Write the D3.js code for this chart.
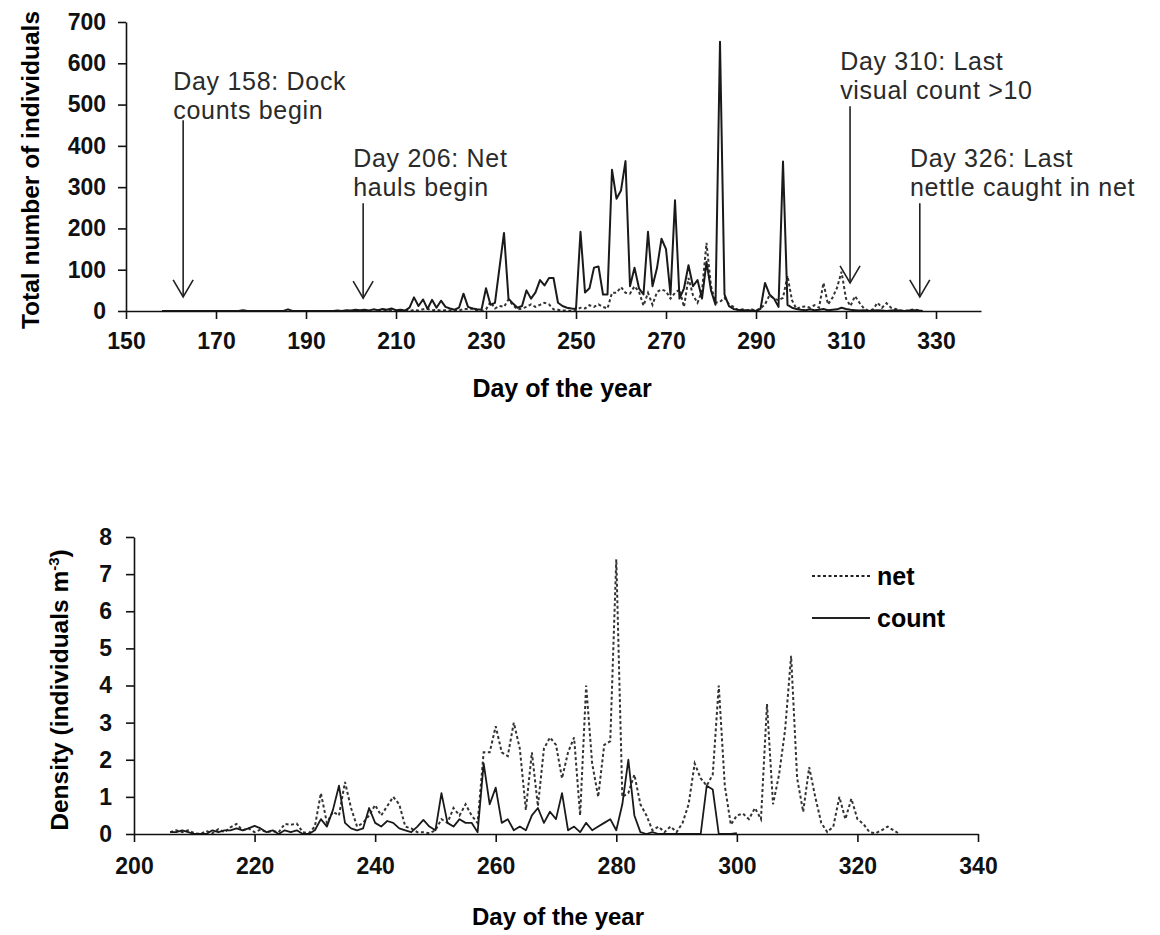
<!DOCTYPE html>
<html>
<head>
<meta charset="utf-8">
<script src="https://cdn.jsdelivr.net/npm/d3@7"></script>
<style>
  body { margin: 0; background: #fff; }
  text { font-family: "Liberation Sans", Arial, sans-serif; }
</style>
</head>
<body>
<div id="chart"></div>
<script>
// data: daily values, first value belongs to the start day
const topCountStart = 158;
const topCount = [
    0,0,0,0,0,0,0,0,0,0,0,0,0,0,0,0,0,0, 2, 0,0,0,0,0,0,0,0,0, 4,
    0,0,0,0,0,0,0,0,0,0,
    1,0,2,1,3,2,3,1,4,2,5,3,6,2,3,1,8,
    33,12,28,5,27,8,25,10,6,3,8,42,10,6,4,3,55,15,20,105,189,30,18,8,12,50,30,45,75,62,80,80,20,12,8,6,5,192,45,55,105,108,40,40,
    342,272,292,363,60,105,55,40,192,60,104,175,150,40,268,30,55,111,60,75,30,119,50,15,652,40,12,5,3,2,2,1,0,5,68,40,30,10,362,15,8,5,3,
    2,4,2,3,5,2,3,4,8,5,3,2,1,2,0,1,2,1,0,1,2,1,0,1,2,1,0
];
const topNetStart = 206;
const topNet = [
    1,2,1,2,0,0,2,0,3,1,4,5,2,3,1,2,1,2,1,5,5,6,1,0,4,
    22,6,12,10,28,14,4,6,10,16,10,15,20,16,4,3,1,1,0,2,8,6,14,10,16,10,6,
    44,44,58,44,42,60,46,13,44,15,46,52,48,30,44,52,10,80,38,20,48,165,60,20,22,32,16,10,
    2,4,1,4,1,6,16,38,30,26,32,85,26,5,10,11,8,14,8,68,16,32,56,95,30,12,36,20,6,1,
    4,20,8,19,8,5,1,0,2,4,2,0
];

const densNetStart = 206;
const densNet = [
    0.05,0.1,0.05,0.1,0.02,0,0.08,0.02,0.13,0.05,0.18,0.27,0.1,0.15,0.05,0.12,0.05,0.08,0.05,0.27,0.25,0.28,0.05,0.02,0.2,
    1.1,0.3,0.6,0.5,1.4,0.7,0.2,0.3,0.5,0.78,0.5,0.75,1.0,0.8,0.2,0.15,0.05,0.05,0.02,0.1,0.4,0.3,0.7,0.5,0.8,0.5,0.3,
    2.2,2.2,2.9,2.2,2.1,3.0,2.3,0.65,2.2,0.75,2.3,2.6,2.4,1.5,2.2,2.6,0.5,4.0,1.9,1.0,2.4,2.5,7.4,1.0,1.1,1.6,0.8,0.5,
    0.1,0.2,0.05,0.2,0.05,0.3,0.8,1.9,1.5,1.3,1.6,4.0,1.3,0.25,0.5,0.55,0.4,0.7,0.4,3.5,0.8,1.6,2.8,4.8,1.5,0.6,1.8,1.0,0.3,0.05,
    0.2,1.0,0.4,0.95,0.4,0.27,0.05,0.02,0.1,0.2,0.1,0
];
const densCountStart = 206;
const densCount = [
    0.05,0.05,0.1,0.05,0,0,0,0.1,0.05,0.1,0.1,0.15,0.1,0.15,0.22,0.15,0.05,0.1,0,0.1,0.05,0.1,0,0,0.1,
    0.4,0.2,0.65,1.3,0.3,0.15,0.1,0.15,0.7,0.3,0.2,0.35,0.3,0.15,0.1,0.05,0.2,0.38,0.2,0.1,1.1,0.3,0.2,0.4,0.3,0.3,0.05,
    1.9,0.8,1.25,0.3,0.4,0.1,0.2,0.1,0.5,0.7,0.3,0.6,0.4,1.1,0.1,0.2,0.05,0.3,0.1,0.2,0.3,0.4,0.1,0.8,2.0,0.5,0.05,0,
    0.05,0,0,0,0,0,0,0,0,1.3,1.2,0,0,0,0.02
];

// tick labels
const topXTicks = [150, 170, 190, 210, 230, 250, 270, 290, 310, 330];
const topYTicks = [0, 100, 200, 300, 400, 500, 600, 700];
const botXTicks = [200, 220, 240, 260, 280, 300, 320, 340];
const botYTicks = [0, 1, 2, 3, 4, 5, 6, 7, 8];

// annotations: text lines, arrow day, arrow top and tip (in counts)
const notes = [
    { lines: ["Day 158: Dock", "counts begin"], textDay: 160.5, textY: 535, day: 162.7, from: 462, to: 34 },
    { lines: ["Day 206: Net", "hauls begin"], textDay: 200.5, textY: 348, day: 202.7, from: 261, to: 31 },
    { lines: ["Day 310: Last", "visual count >10"], textDay: 308.7, textY: 584, day: 310.9, from: 496, to: 68 },
    { lines: ["Day 326: Last", "nettle caught in net"], textDay: 324.2, textY: 348, day: 326.4, from: 261, to: 34 }
];

const legendItems = [
    { name: "net", dash: "3,2.5" },
    { name: "count", dash: null }
];

const toPoints = (start, vals) => vals.map((v, i) => ({ day: start + i, v: v }));

const svg = d3.select("#chart").append("svg")
    .attr("width", 1160)
    .attr("height", 935);

svg.append("rect").attr("width", 1160).attr("height", 935).attr("fill", "#fff");

function styleAxis(g) {
    g.select(".domain").attr("stroke", "#111").attr("stroke-width", 1.6);
    g.selectAll(".tick line").attr("stroke", "#111").attr("stroke-width", 1.6);
    g.selectAll(".tick text")
        .attr("fill", "#111")
        .style("font-size", "23px")
        .style("font-weight", "bold");
}

// ---------- top chart ----------
const x1 = d3.scaleLinear().domain([150, 340]).range([126, 981]);
const y1 = d3.scaleLinear().domain([0, 700]).range([311, 22]);

const line1 = d3.line().x(d => x1(d.day)).y(d => y1(d.v));

svg.append("path")
    .datum(toPoints(topNetStart, topNet))
    .attr("d", line1)
    .attr("fill", "none")
    .attr("stroke", "#333")
    .attr("stroke-width", 2)
    .attr("stroke-dasharray", "3,2.5");

svg.append("path")
    .datum(toPoints(topCountStart, topCount))
    .attr("d", line1)
    .attr("fill", "none")
    .attr("stroke", "#1a1a1a")
    .attr("stroke-width", 2)
    .attr("stroke-linejoin", "round");

svg.append("g")
    .attr("transform", "translate(0," + y1(0) + ")")
    .call(d3.axisBottom(x1).tickValues(topXTicks).tickSize(8).tickSizeOuter(0).tickPadding(14))
    .call(styleAxis);

svg.append("g")
    .attr("transform", "translate(" + x1(150) + ",0)")
    .call(d3.axisLeft(y1).tickValues(topYTicks).tickSize(8).tickSizeOuter(0).tickPadding(12))
    .call(styleAxis);

svg.append("text")
    .attr("x", 562)
    .attr("y", 397)
    .attr("text-anchor", "middle")
    .style("font-size", "25px")
    .style("font-weight", "bold")
    .text("Day of the year");

svg.append("text")
    .attr("transform", "translate(39,170) rotate(-90)")
    .attr("text-anchor", "middle")
    .style("font-size", "24.5px")
    .style("font-weight", "bold")
    .text("Total number of individuals");

// annotations with arrows
notes.forEach(n => {
    const t = svg.append("text")
        .attr("x", x1(n.textDay))
        .attr("y", y1(n.textY))
        .attr("fill", "#2a2a2a")
        .style("font-size", "25px")
        .style("letter-spacing", "0.7px");
    n.lines.forEach((s, i) => {
        t.append("tspan").attr("x", x1(n.textDay)).attr("dy", i === 0 ? 0 : 29).text(s);
    });
    const ax = x1(n.day), top = y1(n.from), tip = y1(n.to);
    svg.append("line")
        .attr("x1", ax).attr("x2", ax).attr("y1", top).attr("y2", tip)
        .attr("stroke", "#222").attr("stroke-width", 1.6);
    svg.append("path")
        .attr("d", `M${ax - 10},${tip - 17}L${ax},${tip}L${ax + 10},${tip - 17}`)
        .attr("fill", "none").attr("stroke", "#222").attr("stroke-width", 1.6);
});

// ---------- bottom chart ----------
const x2 = d3.scaleLinear().domain([200, 340]).range([134, 978]);
const y2 = d3.scaleLinear().domain([0, 8]).range([834, 537]);

const line2 = d3.line().x(d => x2(d.day)).y(d => y2(d.v));

svg.append("path")
    .datum(toPoints(densNetStart, densNet))
    .attr("d", line2)
    .attr("fill", "none")
    .attr("stroke", "#333")
    .attr("stroke-width", 2)
    .attr("stroke-dasharray", "3,2.5");

svg.append("path")
    .datum(toPoints(densCountStart, densCount))
    .attr("d", line2)
    .attr("fill", "none")
    .attr("stroke", "#1a1a1a")
    .attr("stroke-width", 1.8)
    .attr("stroke-linejoin", "round");

svg.append("g")
    .attr("transform", "translate(0," + y2(0) + ")")
    .call(d3.axisBottom(x2).tickValues(botXTicks).tickSize(8).tickSizeOuter(0).tickPadding(16))
    .call(styleAxis);

svg.append("g")
    .attr("transform", "translate(" + x2(200) + ",0)")
    .call(d3.axisLeft(y2).tickValues(botYTicks).tickSize(8).tickSizeOuter(0).tickPadding(14))
    .call(styleAxis);

svg.append("text")
    .attr("x", 558)
    .attr("y", 925)
    .attr("text-anchor", "middle")
    .style("font-size", "24px")
    .style("font-weight", "bold")
    .text("Day of the year");

const yt = svg.append("text")
    .attr("transform", "translate(68,690) rotate(-90)")
    .attr("text-anchor", "middle")
    .style("font-size", "24.5px")
    .style("font-weight", "bold");
yt.append("tspan").text("Density (individuals m");
yt.append("tspan").attr("dy", -9).style("font-size", "15px").text("-3");
yt.append("tspan").attr("dy", 9).text(")");

// legend
legendItems.forEach((d, i) => {
    const ly = 576 + i * 42;
    svg.append("line")
        .attr("x1", 812).attr("x2", 870).attr("y1", ly).attr("y2", ly)
        .attr("stroke", "#222").attr("stroke-width", 2)
        .attr("stroke-dasharray", d.dash);
    svg.append("text")
        .attr("x", 877).attr("y", ly + 9)
        .style("font-size", "25px")
        .style("font-weight", "bold")
        .text(d.name);
});
</script>
</body>
</html>
